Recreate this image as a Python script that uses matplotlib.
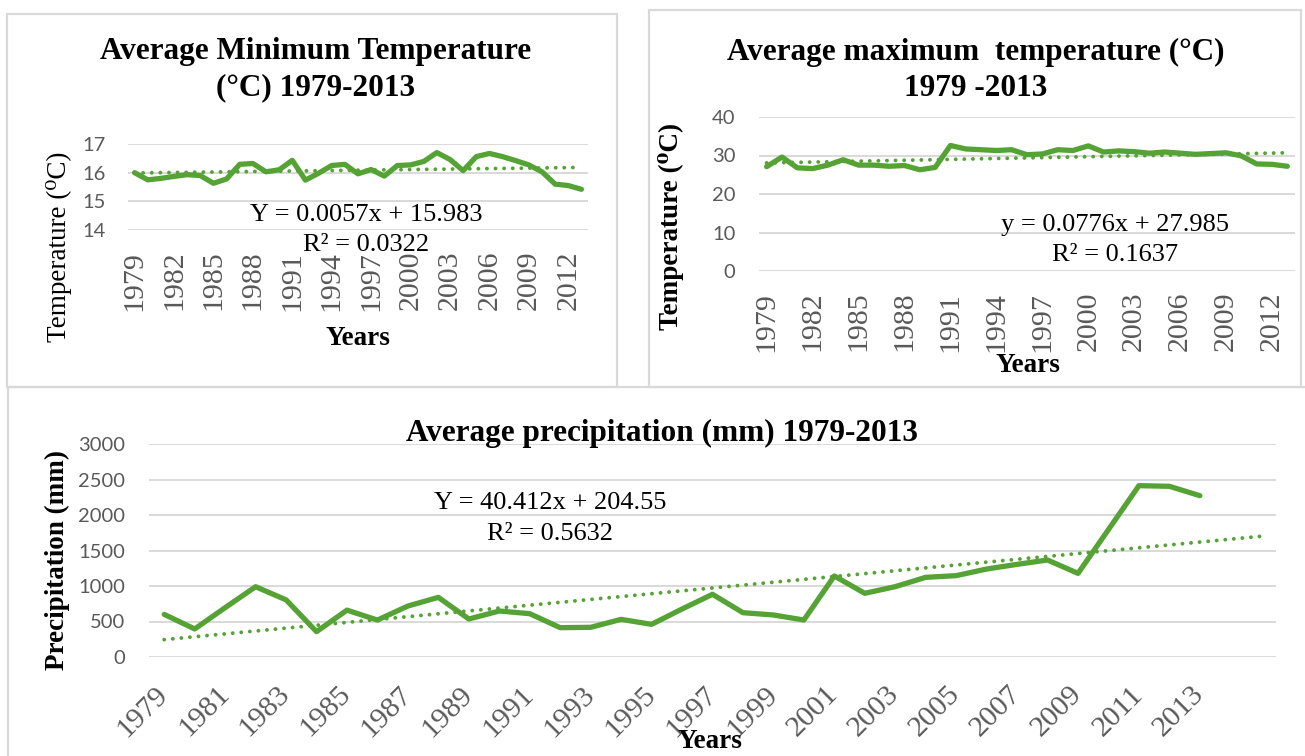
import numpy as np
import matplotlib.pyplot as plt
from matplotlib.patches import Rectangle

# data
years = list(range(1979, 2014))
tmin = [16.0, 15.75, 15.8, 15.87, 15.93, 15.9, 15.63, 15.78, 16.29, 16.32,
        16.03, 16.1, 16.43, 15.74, 15.98, 16.25, 16.29, 15.96, 16.11, 15.88,
        16.25, 16.27, 16.39, 16.7, 16.46, 16.07, 16.56, 16.67, 16.56, 16.42,
        16.27, 16.03, 15.6, 15.55, 15.42]
tmax = [27.1, 29.6, 26.8, 26.6, 27.5, 28.9, 27.5, 27.5, 27.2, 27.4,
        26.3, 26.9, 32.6, 31.7, 31.5, 31.3, 31.5, 30.2, 30.4, 31.5,
        31.3, 32.5, 30.9, 31.2, 31.0, 30.6, 30.9, 30.6, 30.3, 30.5,
        30.7, 29.9, 27.8, 27.7, 27.2]
precip = [600, 395, 695, 990, 805, 357, 660, 520, 718, 840,
          535, 648, 610, 413, 418, 530, 460, 676, 883, 624,
          592, 521, 1141, 897, 991, 1122, 1146, 1239, 1305, 1366,
          1178, 1795, 2413, 2404, 2272]

# trendline equations printed on the chart (slope, intercept), x = 1..n
tmin_fit = (0.0057, 15.983)
tmax_fit = (0.0776, 27.985)
precip_fit = (40.412, 204.55)
precip_forward = 2  # trendline forecast periods

W, H = 1305, 756
GREEN = '#55a335'
GRID = '#d9d9d9'
TICK = '#595959'
SERIF = ['Liberation Serif', 'DejaVu Serif']
SANS = ['Lato', 'DejaVu Sans']

fig = plt.figure(figsize=(W / 100, H / 100), dpi=100)


def fx(x):
    return x / W


def fy(y):
    return 1 - y / H


def add_ax(l, t, r, b):
    return fig.add_axes([fx(l), fy(b), (r - l) / W, (b - t) / H])


def style(ax, xpad, ypad, rot):
    for s in ax.spines.values():
        s.set_visible(False)
    ax.grid(axis='y', color=GRID, lw=1.4)
    ax.set_axisbelow(True)
    ax.tick_params(length=0)
    ax.tick_params(axis='x', pad=xpad)
    ax.tick_params(axis='y', pad=ypad)
    for lab in ax.get_yticklabels():
        lab.set_fontfamily(SANS)
        lab.set_fontsize(14.5)
        lab.set_color(TICK)
    for lab in ax.get_xticklabels():
        lab.set_fontfamily(SERIF)
        lab.set_fontsize(21.5)
        lab.set_color(TICK)
        lab.set_rotation(rot)
        if rot == 45:
            lab.set_ha('right')
            lab.set_va('center')
            lab.set_rotation_mode('anchor')


def draw(ax, vals, fit, n_trend, step):
    idx = np.arange(len(vals))
    ax.plot(idx, vals, color=GREEN, lw=3.8, solid_joinstyle='round',
            solid_capstyle='round', zorder=3)
    tx = np.arange(n_trend)
    ax.plot(tx, fit[0] * (tx + 1) + fit[1], color=GREEN, lw=2.8,
            dashes=(0.01, 2.2), dash_capstyle='round', zorder=2)
    ax.set_xlim(-0.5, n_trend - 0.5)
    ax.set_xticks(idx[::step])
    ax.set_xticklabels([str(y) for y in years[::step]])


# panel frames
for l, t, r, b in [(7, 14, 617, 387), (649, 10, 1301, 387), (8, 387, 1312, 762)]:
    fig.patches.append(Rectangle((fx(l), fy(b)), (r - l) / W, (b - t) / H,
                                 transform=fig.transFigure, fill=False,
                                 edgecolor=GRID, lw=1.6))

# --- average minimum temperature
ax1 = add_ax(128, 144, 588, 230)
draw(ax1, tmin, tmin_fit, len(tmin), 3)
ax1.set_ylim(14, 17)
ax1.set_yticks([14, 15, 16, 17])
style(ax1, 15, 16, 90)

# --- average maximum temperature
ax2 = add_ax(759, 117, 1295, 271)
draw(ax2, tmax, tmax_fit, len(tmax), 3)
ax2.set_ylim(0, 40)
ax2.set_yticks([0, 10, 20, 30, 40])
style(ax2, 15, 17, 90)

# --- average precipitation
ax3 = add_ax(149, 444, 1276, 657)
draw(ax3, precip, precip_fit, len(precip) + precip_forward, 2)
ax3.set_ylim(0, 3000)
ax3.set_yticks(np.arange(0, 3001, 500))
style(ax3, 24, 17, 45)

# titles
tkw = dict(ha='center', va='center', fontfamily=SERIF, fontweight='bold', fontsize=22.5)
fig.text(fx(316), fy(52), 'Average Minimum Temperature', **tkw)
fig.text(fx(316), fy(88), '(°C) 1979-2013', **tkw)
fig.text(fx(976), fy(52), 'Average maximum  temperature (°C)', **tkw)
fig.text(fx(976), fy(88), '1979 -2013', **tkw)
fig.text(fx(662), fy(433), 'Average precipitation (mm) 1979-2013', **tkw)

# axis titles
akw = dict(ha='center', va='center', fontfamily=SERIF, fontsize=19.5)
fig.text(fx(358), fy(339), 'Years', fontweight='bold', **akw)
fig.text(fx(1028), fy(365), 'Years', fontweight='bold', **akw)
fig.text(fx(710), fy(741), 'Years', fontweight='bold', **akw)
fig.text(fx(59), fy(247), 'Temperature (⁰C)', rotation=90, **akw)
fig.text(fx(671), fy(226), 'Temperature (⁰C)', rotation=90, fontweight='bold', **akw)
fig.text(fx(57), fy(560), 'Precipitation (mm)', rotation=90, fontweight='bold', **akw)

# trendline equations
ekw = dict(ha='center', va='center', fontfamily=SERIF, fontsize=19)
fig.text(fx(366), fy(215), 'Y = %.4fx + %.3f' % tmin_fit, **ekw)
fig.text(fx(366), fy(245), 'R² = 0.0322', **ekw)
fig.text(fx(1115), fy(225), 'y = %.4fx + %.3f' % tmax_fit, **ekw)
fig.text(fx(1115), fy(255), 'R² = 0.1637', **ekw)
fig.text(fx(550), fy(503), 'Y = %.3fx + %.2f' % precip_fit, **ekw)
fig.text(fx(550), fy(534), 'R² = 0.5632', **ekw)

fig.savefig('out.png', dpi=100)
